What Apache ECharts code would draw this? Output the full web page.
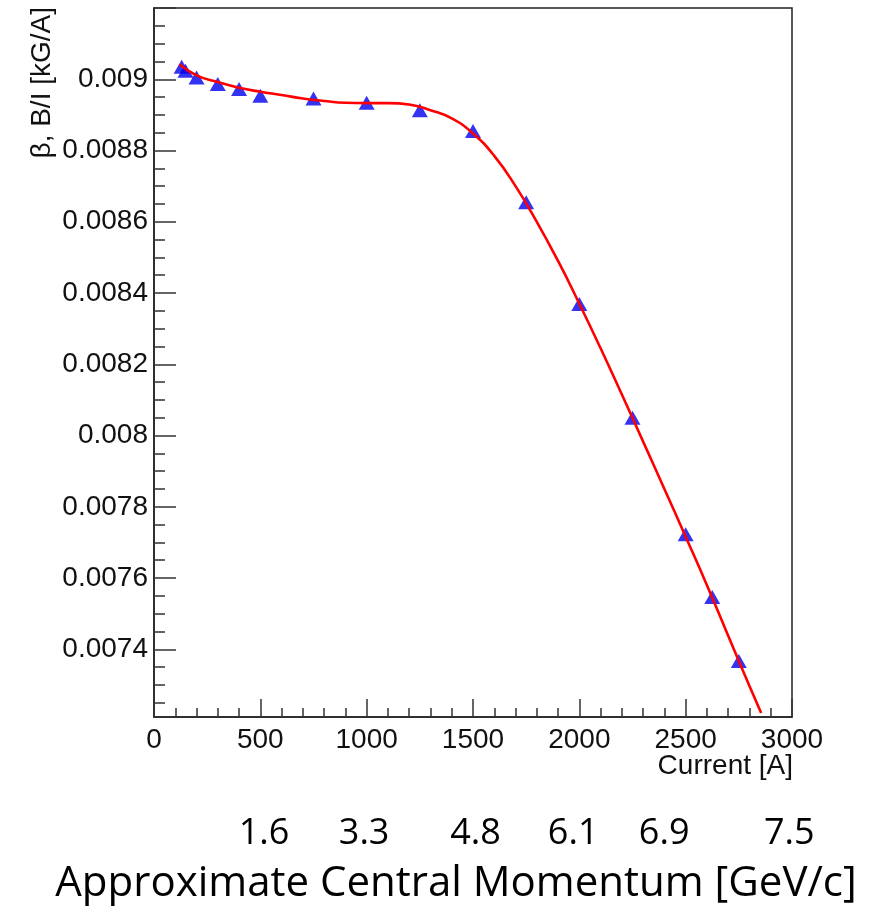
<!DOCTYPE html>
<html>
<head>
<meta charset="utf-8">
<script src="https://cdn.jsdelivr.net/npm/echarts@6/dist/echarts.min.js"></script>
<style>
  html, body { margin: 0; padding: 0; background: #ffffff; }
  #chart { width: 874px; height: 907px; }
</style>
</head>
<body>
<div id="chart"></div>
<script>
// Measured beta = B/I against magnet current
const measCurrent = [130, 148, 200, 300, 400, 500, 750, 1000, 1250, 1500, 1750, 2000, 2250, 2500, 2625, 2750];
const measBeta = [0.009035, 0.009024, 0.009005, 0.008987, 0.008973, 0.008954, 0.008946, 0.008934, 0.008913,
                  0.008855, 0.008655, 0.008369, 0.008050, 0.007723, 0.007547, 0.007367];

// Fitted curve, sampled along the current range
const fitCurrent = [120, 200, 300, 400, 500, 600, 700, 800, 900, 1000, 1100, 1200, 1300, 1400, 1500,
                    1600, 1700, 1800, 1900, 2000, 2100, 2200, 2300, 2400, 2500, 2600, 2700, 2800, 2855];
const fitBeta = [0.009042, 0.009011, 0.008992, 0.008976, 0.008965, 0.008956, 0.008946, 0.008939, 0.008934,
                 0.008933, 0.008933, 0.008929, 0.008913, 0.008890, 0.008848, 0.008785, 0.008700, 0.008600,
                 0.008490, 0.008370, 0.008245, 0.008115, 0.007983, 0.007850, 0.007716, 0.007580, 0.007438,
                 0.007297, 0.007221];

// Approximate central momentum at a few currents
const momentumLabels = ['1.6', '3.3', '4.8', '6.1', '6.9', '7.5'];
const momentumCurrent = [517, 988, 1512, 1971, 2399, 2987];

const axisFont = 'Liberation Sans, Arial, Helvetica, sans-serif';
const noteFont = 'Open Sans, Lato, sans-serif';

const chart = echarts.init(document.getElementById('chart'), null, { renderer: 'canvas' });

const option = {
  animation: false,
  backgroundColor: '#ffffff',
  grid: {
    left: 154, right: 82, top: 8, bottom: 190,
    show: true, borderColor: '#222', borderWidth: 1.5, backgroundColor: 'transparent'
  },
  xAxis: {
    type: 'value',
    min: 0, max: 3000, interval: 500,
    axisLine: { show: true, onZero: false, lineStyle: { color: '#222', width: 1.5 } },
    axisTick: { show: true, inside: true, length: 18, lineStyle: { color: '#333', width: 1.5 } },
    minorTick: { show: true, splitNumber: 5, length: 9, lineStyle: { color: '#333', width: 1.5 } },
    splitLine: { show: false },
    axisLabel: { fontFamily: axisFont, fontSize: 28, color: '#111', margin: 9,
                 formatter: v => String(v) }
  },
  yAxis: {
    type: 'value',
    min: 0.00721, max: 0.0092, splitNumber: 10,
    axisLine: { show: true, onZero: false, lineStyle: { color: '#222', width: 1.5 } },
    axisTick: { show: true, inside: true, length: 22, lineStyle: { color: '#333', width: 1.5 } },
    minorTick: { show: true, splitNumber: 4, length: 11, lineStyle: { color: '#333', width: 1.5 } },
    splitLine: { show: false },
    axisLabel: {
      fontFamily: axisFont, fontSize: 28, color: '#111', margin: 6,
      showMinLabel: false, showMaxLabel: false,
      formatter: v => String(parseFloat(v.toPrecision(6)))
    }
  },
  series: [
    {
      name: 'data',
      type: 'scatter',
      symbol: 'triangle',
      symbolSize: [16, 14],
      itemStyle: { color: '#0000ee' },
      data: measCurrent.map((c, i) => [c, measBeta[i]]),
      z: 2
    },
    {
      name: 'fit',
      type: 'line',
      smooth: true,
      showSymbol: false,
      lineStyle: { color: '#ff0000', width: 2.6 },
      data: fitCurrent.map((c, i) => [c, fitBeta[i]]),
      z: 3
    }
  ]
};

chart.setOption(option);

const gridRight = chart.convertToPixel({ xAxisIndex: 0 }, 3000);
const gridBottom = chart.convertToPixel({ yAxisIndex: 0 }, 0.00721);

const graphics = [
  {
    type: 'text', x: 42, y: 7, rotation: Math.PI / 2,
    style: { text: 'β, B/I [kG/A]', fontFamily: axisFont, fontSize: 28, fill: '#111',
             align: 'right', verticalAlign: 'middle' }
  },
  {
    type: 'text', x: gridRight + 1, y: gridBottom + 49,
    style: { text: 'Current [A]', fontFamily: axisFont, fontSize: 28, fill: '#111',
             align: 'right', verticalAlign: 'middle' }
  },
  {
    type: 'text', x: 456, y: gridBottom + 167,
    style: { text: 'Approximate Central Momentum [GeV/c]', fontFamily: noteFont, fontSize: 42,
             fill: '#000', align: 'center', verticalAlign: 'middle' }
  }
];
momentumLabels.forEach((lab, i) => {
  graphics.push({
    type: 'text',
    x: chart.convertToPixel({ xAxisIndex: 0 }, momentumCurrent[i]),
    y: gridBottom + 117,
    style: { text: lab, fontFamily: noteFont, fontSize: 36, fill: '#000',
             align: 'center', verticalAlign: 'middle' }
  });
});
chart.setOption({ graphic: graphics });
</script>
</body>
</html>
